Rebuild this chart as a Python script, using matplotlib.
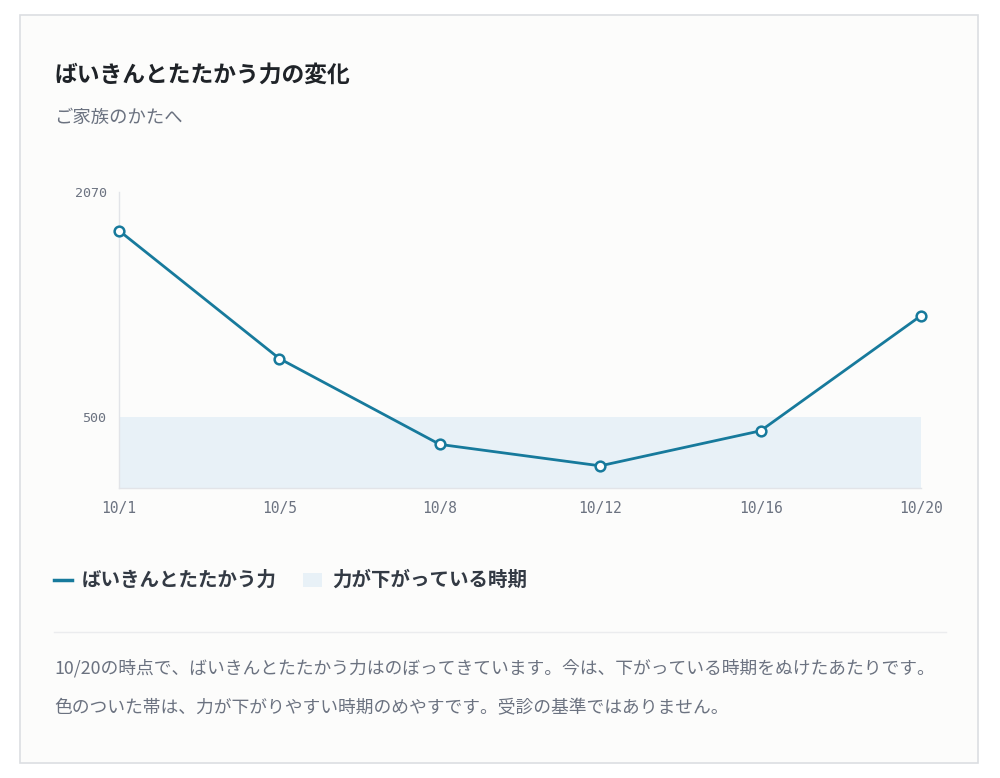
import matplotlib.pyplot as plt
from matplotlib.patches import Rectangle
from matplotlib.lines import Line2D

plt.rcParams["font.family"] = ["Noto Sans CJK JP", "DejaVu Sans"]

dates = ["10/1", "10/5", "10/8", "10/12", "10/16", "10/20"]
strength = [1800, 905, 305, 155, 400, 1205]
band_low = 0
band_high = 500
y_ticks = [500, 2070]

title = "ばいきんとたたかう力の変化"
subtitle = "ご家族のかたへ"
legend_line = "ばいきんとたたかう力"
legend_band = "力が下がっている時期"
notes = [
    "10/20の時点で、ばいきんとたたかう力はのぼってきています。今は、下がっている時期をぬけたあたりです。",
    "色のついた帯は、力が下がりやすい時期のめやすです。受診の基準ではありません。",
]

W, H = 1000, 778
line_color = "#177a9c"
band_color = "#e8f1f7"
gray = "#6b7280"
dark = "#1f2328"

fig = plt.figure(figsize=(W / 100, H / 100), dpi=100)
fig.patch.set_facecolor("#ffffff")


def fx(px):
    return px / W


def fy(py):
    return 1 - py / H


# card behind everything
fig.patches.append(Rectangle((fx(20), fy(763)), fx(958), 748 / H, transform=fig.transFigure,
                             facecolor="#fcfcfb", edgecolor="#dcdee2", linewidth=1.2, zorder=-5))

fig.text(fx(54), fy(75), title, fontsize=16.4, fontweight="bold", color=dark, va="center", ha="left")
fig.text(fx(54), fy(118), subtitle, fontsize=13.2, color=gray, va="center", ha="left")

ax = fig.add_axes([fx(119), fy(488), fx(921) - fx(119), (488 - 192) / H])
ax.set_facecolor("none")
x = list(range(len(dates)))
ax.fill_between([x[0], x[-1]], band_low, band_high, color=band_color, linewidth=0, zorder=1)
ax.plot(x, strength, color=line_color, linewidth=2, marker="o", markersize=7,
        markerfacecolor="white", markeredgecolor=line_color, markeredgewidth=1.8, zorder=3, clip_on=False)
ax.set_xlim(x[0], x[-1])
ax.set_ylim(0, 2070)
ax.set_xticks(x)
ax.set_xticklabels(dates)
ax.set_yticks(y_ticks)
ax.set_yticklabels([str(v) for v in y_ticks])
for lab in ax.get_xticklabels():
    lab.set_family("DejaVu Sans Mono")
    lab.set_fontsize(10.5)
    lab.set_color(gray)
for lab in ax.get_yticklabels():
    lab.set_family("DejaVu Sans Mono")
    lab.set_fontsize(9.6)
    lab.set_color(gray)
ax.tick_params(length=0)
ax.tick_params(axis="x", pad=9)
ax.tick_params(axis="y", pad=9)
for s in ["top", "right"]:
    ax.spines[s].set_visible(False)
for s in ["left", "bottom"]:
    ax.spines[s].set_color("#e2e4e8")
    ax.spines[s].set_linewidth(1)

# legend
fig.add_artist(Line2D([fx(54), fx(72)], [fy(580), fy(580)], color=line_color, linewidth=2.5))
fig.text(fx(82), fy(580), legend_line, fontsize=14, fontweight="bold", color="#333a44", va="center", ha="left")
fig.patches.append(Rectangle((fx(303), fy(587)), fx(19), 14 / H, transform=fig.transFigure,
                             facecolor=band_color, edgecolor="none"))
fig.text(fx(332), fy(580), legend_band, fontsize=14, fontweight="bold", color="#333a44", va="center", ha="left")

fig.add_artist(Line2D([fx(54), fx(946)], [fy(632), fy(632)], color="#ebecee", linewidth=1))

fig.text(fx(54), fy(668), notes[0], fontsize=12.8, color=gray, va="center", ha="left")
fig.text(fx(54), fy(708), notes[1], fontsize=12.8, color=gray, va="center", ha="left")

fig.savefig("out.png", dpi=100, facecolor=fig.get_facecolor())
